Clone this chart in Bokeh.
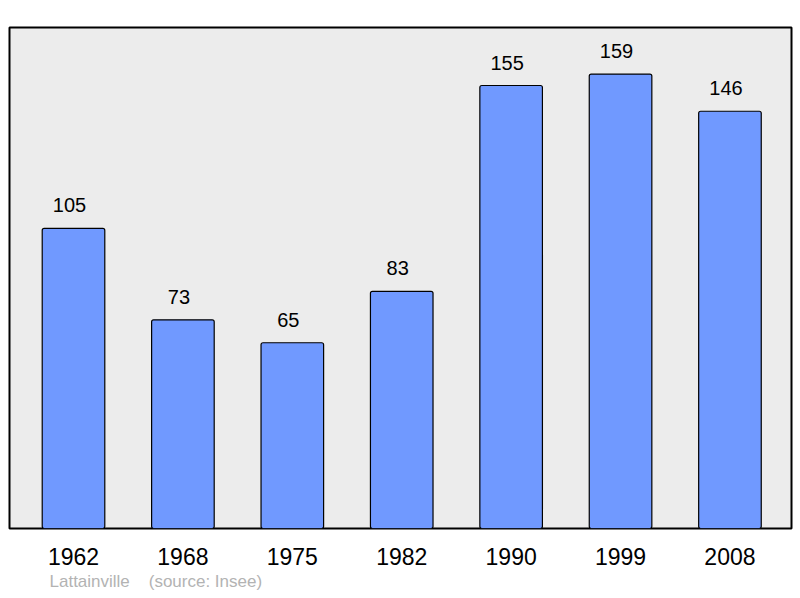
from bokeh.plotting import figure
from bokeh.models import Range1d, FixedTicker, Title
from bokeh.core.properties import value
from bokeh.embed import file_html
from bokeh.resources import INLINE

years = ["1962", "1968", "1975", "1982", "1990", "1999", "2008"]
population = [105, 73, 65, 83, 155, 159, 146]
place = "Lattainville"
source = "(source: Insee)"
caption = place + "\u00a0\u00a0\u00a0\u00a0" + source

xs = list(range(len(years)))
FONT = "Liberation Sans"

p = figure(width=800, height=598, output_backend="svg", toolbar_location=None,
           x_range=Range1d(-0.585, 6.5625), y_range=Range1d(0, 175.3),
           min_border_left=9, min_border_right=9, min_border_top=27, min_border_bottom=70,
           background_fill_color="#ececec", border_fill_color="white")
p.outline_line_color = "black"
p.outline_line_width = 2
p.grid.visible = False
p.yaxis.visible = False

p.vbar(x=xs, top=population, bottom=0, width=0.572, fill_color="#7099ff",
       line_color="black", line_width=1.2, border_radius=2)
p.text(x=xs, y=population, text=[str(v) for v in population], text_align="center",
       text_baseline="alphabetic", x_offset=-4, y_offset=-23, text_font=value(FONT),
       text_font_size="20px", text_color="black")

ax = p.xaxis[0]
ax.ticker = FixedTicker(ticks=xs)
ax.major_label_overrides = {i: y for i, y in enumerate(years)}
ax.axis_line_color = None
ax.major_tick_line_color = None
ax.minor_tick_line_color = None
ax.major_tick_out = 0
ax.major_label_standoff = 19
ax.major_label_text_font = FONT
ax.major_label_text_font_size = "23px"
ax.major_label_text_color = "black"

p.add_layout(Title(text=caption, align="left", offset=40, standoff=4,
                   text_font=FONT, text_font_size="17px", text_color="#b3b3b3",
                   text_font_style="normal"), "below")

open("out.html", "w").write(file_html(p, INLINE))
